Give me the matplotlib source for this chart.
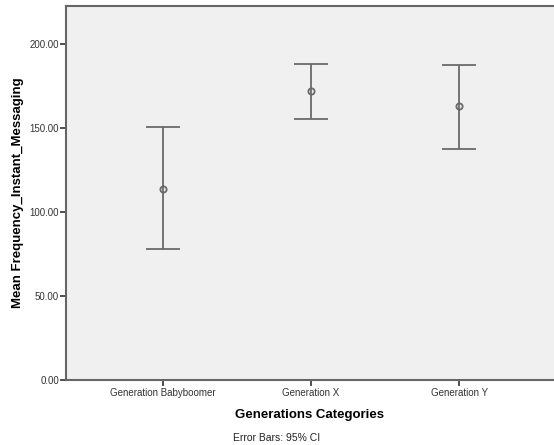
import matplotlib.pyplot as plt
import numpy as np

plt.rcParams['font.family'] = ['Liberation Sans', 'DejaVu Sans']

categories = ["Generation Babyboomer", "Generation X", "Generation Y"]
means = [114.0, 172.0, 163.0]
ci_low = [78.0, 155.5, 137.5]
ci_high = [150.5, 188.5, 188.0]

x = np.arange(len(categories))
m = np.array(means)
err = [m - np.array(ci_low), np.array(ci_high) - m]

fig = plt.figure(figsize=(5.54, 4.45), dpi=100)
ax = fig.add_axes([0.1191, 0.1467, 0.8809, 0.84])
ax.set_facecolor('#f0f0f0')

ax.errorbar(x, means, yerr=err, fmt='o', color='#6a6a6a', ecolor='#6a6a6a',
            elinewidth=1.3, capsize=12.5, capthick=1.3,
            markersize=4.5, markerfacecolor='none', markeredgewidth=1.3)

ax.set_xlim(-0.655, 2.64)
ax.set_ylim(0, 223)
ax.set_yticks([0, 50, 100, 150, 200])
ax.set_yticklabels([f"{v:.2f}" for v in [0, 50, 100, 150, 200]])
ax.set_xticks(x)
ax.set_xticklabels(categories)
ax.tick_params(axis='both', labelsize=7, colors='#333333', length=4, width=1.2, direction='out')
ax.tick_params(axis='y', pad=1)
ax.tick_params(axis='x', pad=2)

for s in ['left', 'bottom', 'top']:
    ax.spines[s].set_color('#666666')
    ax.spines[s].set_linewidth(1.5)
ax.spines['right'].set_visible(False)

ax.set_xlabel("Generations Categories", fontsize=9.5, fontweight='bold', labelpad=8)
ax.set_ylabel("Mean Frequency_Instant_Messaging", fontsize=9.5, fontweight='bold', labelpad=4)

fig.text(0.5, 0.005, "Error Bars: 95% CI", ha='center', va='bottom', fontsize=7.5, color='#222222')

fig.savefig("out.png", dpi=100)
